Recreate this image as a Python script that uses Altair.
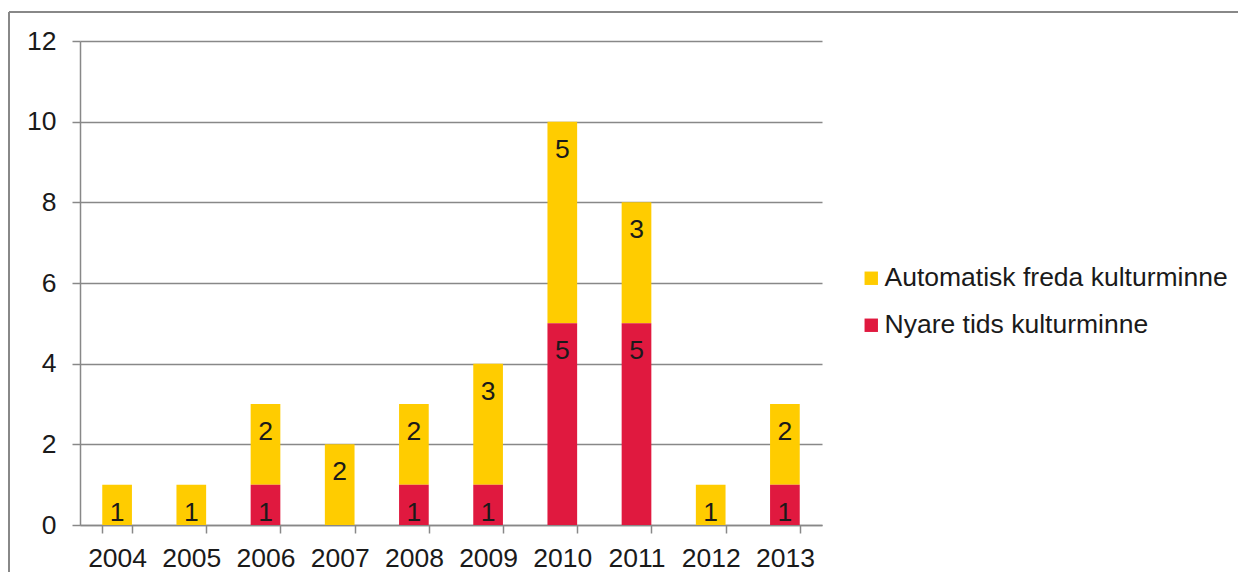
import altair as alt
import pandas as pd

years = ["2004", "2005", "2006", "2007", "2008", "2009", "2010", "2011", "2012", "2013"]
automatisk = [1, 1, 2, 2, 2, 3, 5, 3, 1, 2]
nyare = [0, 0, 1, 0, 1, 1, 5, 5, 0, 1]
series_names = ["Automatisk freda kulturminne", "Nyare tids kulturminne"]
series_colors = ["#FFCC00", "#E0193F"]
y_ticks = [0, 2, 4, 6, 8, 10, 12]

rows = []
for y, a, n in zip(years, automatisk, nyare):
    rows.append({"year": y, "series": series_names[0], "value": a})
    rows.append({"year": y, "series": series_names[1], "value": n})
df = pd.DataFrame(rows)

FONT = "Liberation Sans"
GRAY = "#888888"
FS = 26.5

base = alt.Chart(df).transform_filter(
    "datum.value > 0"
).transform_calculate(
    ord="datum.series == 'Nyare tids kulturminne' ? 0 : 1"
).transform_stack(
    stack="value", groupby=["year"], sort=[alt.SortField("ord")], as_=["v0", "v1"]
)

xenc = alt.X(
    "year:N",
    sort=years,
    title=None,
    scale=alt.Scale(paddingInner=0.6, paddingOuter=0.3),
    axis=alt.Axis(
        labelAngle=0, tickBand="extent", tickSize=8, labelPadding=12,
        domainColor=GRAY, tickColor=GRAY, domainWidth=1.5, tickWidth=1.5,
        labelFontSize=FS, labelColor="#1a1a1a", labelFont=FONT,
    ),
)
yscale = alt.Scale(domain=[0, 12])

bars = base.mark_bar().encode(
    x=xenc,
    y=alt.Y(
        "v0:Q", scale=yscale, title=None,
        axis=alt.Axis(
            values=y_ticks, tickSize=8, labelPadding=16, grid=True,
            gridColor=GRAY, gridWidth=1.5, domainColor=GRAY, tickColor=GRAY,
            domainWidth=1.5, tickWidth=1.5,
            labelFontSize=FS, labelColor="#1a1a1a", labelFont=FONT,
        ),
    ),
    y2="v1:Q",
    color=alt.Color(
        "series:N",
        scale=alt.Scale(domain=series_names, range=series_colors),
        legend=alt.Legend(
            title=None, orient="none", legendX=778, legendY=224,
            symbolType="square", symbolSize=180, symbolStrokeWidth=0,
            labelFontSize=FS, labelFont=FONT, labelColor="#1a1a1a",
            rowPadding=20, labelOffset=0, labelLimit=0,
        ),
    ),
)

labels = base.mark_text(
    baseline="middle", dy=28, fontSize=FS, font=FONT, color="#1a1a1a"
).encode(
    x=alt.X("year:N", sort=years),
    y=alt.Y("v1:Q", scale=yscale),
    text="value:Q",
)

frame_left = alt.Chart(df).mark_rule(color=GRAY, strokeWidth=1.5, clip=False).encode(
    x=alt.value(-71), y=alt.value(-29), y2=alt.value(700)
)
frame_top = alt.Chart(df).mark_rule(color=GRAY, strokeWidth=1.5, clip=False).encode(
    x=alt.value(-71), x2=alt.value(1300), y=alt.value(-29)
)

chart = alt.layer(frame_left, frame_top, bars, labels).properties(
    width=742, height=484,
    autosize=alt.AutoSizeParams(type="none"),
    padding={"left": 72, "top": 33, "right": 416, "bottom": 47},
).configure_view(stroke=None)

chart.save("out.html", embed_options={"renderer": "svg", "actions": False})
